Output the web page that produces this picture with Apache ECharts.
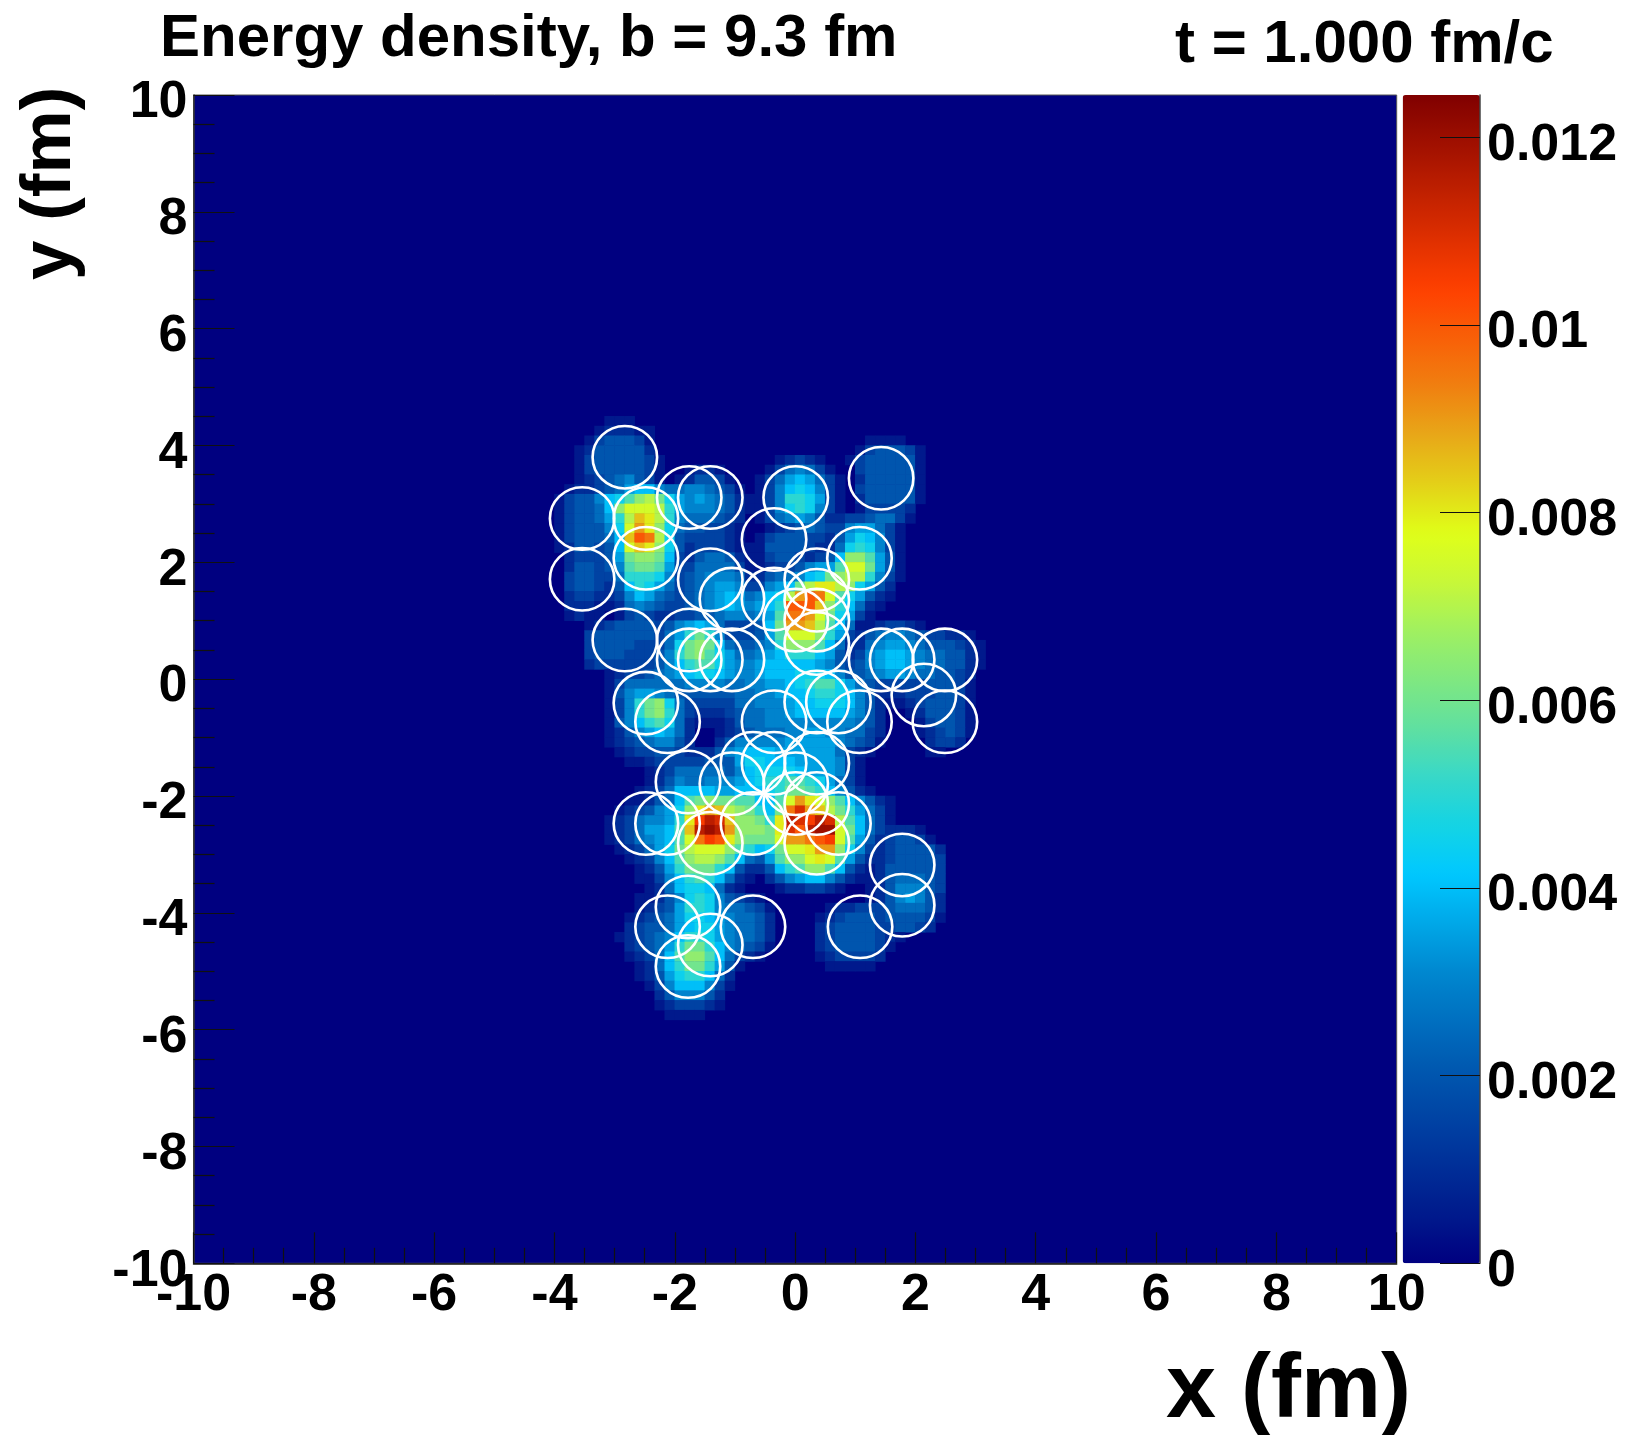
<!DOCTYPE html>
<html>
<head>
<meta charset="utf-8">
<style>html,body{margin:0;padding:0;background:#fff}#c{width:1627px;height:1435px}</style>
<script src="https://cdn.jsdelivr.net/npm/echarts@6/dist/echarts.min.js"></script>
</head>
<body>
<div id="c"></div>
<script>
// Energy density, in steps of 0.0005 (one base-25 digit per cell).
// Rows run from y = 4.5 fm downwards, columns from x = -4 fm rightwards, 1/6 fm per cell.
const densityStep = 0.0005;
const firstCol = 36;   // cell index of x = -4 on the 120-bin axis
const firstRow = 86;   // cell index of the row just below y = 4.5
const energyRows = [
"0000011100|0000000000|0000000000|0000000000|00000",
"0000122211|0000000000|0000000000|0000000000|00000",
"0001344431|0000000000|0000000000|0111100000|00000",
"0012444442|0000000000|0000000000|1344431000|00000",
"0013444443|1000000000|0012321001|3444441000|00000",
"0013444443|1001221000|0135653100|3444441000|00000",
"0012345643|1012443100|1357875310|2444441000|00000",
"0122345788|6556654310|1368986310|3444441000|00000",
"1344689bde|c976765421|136aa97310|2444441000|00000",
"134458dfff|ea76665421|1369a96310|1333320000|00000",
"134457aehg|ea65554320|1356764223|3455310000|00000",
"1344469fig|d954433210|0123454336|7753100000|00000",
"1344458hkj|e943333210|1344433247|9863100000|00000",
"1244348fhg|d942333211|1444432259|a963100000|00000",
"0233347cdd|c832455421|134432348d|db74100000|00000",
"0244346bcc|b733555531|12334677bf|fc74100000|00000",
"0344335aaa|9634566652|2455689cde|ea63100000|00000",
"03443248a9|7534567763|3678cegged|9742000000|00000",
"0233223687|5434567875|689eikjfb9|7421000000|00000",
"0222112565|4334567876|78akkkhda8|5210000000|00000",
"0121101343|2233445665|67bjjifc97|3100000000|00000",
"0001234444|3467875333|48ciiheb85|1123321000|00000",
"0003444444|357aca6333|47bfffda73|2456654332|21000",
"0003444433|359cdc8544|56adddb852|2567765444|32100",
"0003444333|46acdb9755|678aaa8742|3678876554|42100",
"0002333333|468abb9766|7888887643|4678876554|42100",
"0000012334|5678998766|7888999864|4567765544|32000",
"0000013555|5556666556|67789abb97|5433333444|31000",
"0000014677|6544444455|667889aa98|6422233344|31000",
"00000136ac|d953333355|6667889998|6421123444|31000",
"00000136ac|da53222345|5667888887|6420012444|31000",
"000001468a|b952111245|5666666666|5420001344|31000",
"0000012467|8752001234|5556677665|5320001234|31000",
"0000012345|6642002466|6667777765|4310000233|20000",
"0000001233|4432224678|8877777753|2100000110|00000",
"0000000112|3333344479|9888777763|1000000000|00000",
"0000000001|2355555468|9999877763|1000000000|00000",
"0000000001|2465566678|9aabba9753|1000000000|00000",
"0000000012|3588887788|89accba864|2100000000|00000",
"0000000112|458bcdccbb|88bfigfdb8|6421000000|00000",
"0000001234|679dgihedc|a8cjmiheca|7531000000|00000",
"0000012356|67aglnmhdd|cagnmlnmeb|8531000000|00000",
"0000012357|78bhnonidd|dcgmknoofc|8532221000|00000",
"0000012356|78bfjlkgdc|ccfiijklfb|7423443100|00000",
"0000001235|79cefffdba|89cffgiid9|6323444420|00000",
"0000000123|68bdeedb85|47bddfgfb7|4223444430|00000",
"0000000012|47accca842|248abddb84|2124444430|00000",
"0000000011|368aba8521|0246788642|1124555430|00000",
"0000000001|2589985210|0012233210|0124666430|00000",
"0000000011|2469a96432|1000000000|0124676420|00000",
"0000000012|347aa96554|3100000122|3334555420|00000",
"0000000123|4579987655|4200001234|4434444310|00000",
"0000000234|4578997655|4200002344|4433443200|00000",
"0000001234|568aa97655|4200002344|4432100000|00000",
"0000000234|57acca8654|3100002344|4431000000|00000",
"0000000123|58bddb8532|1000001233|3320000000|00000",
"0000000012|58acca7410|0000000111|1100000000|00000",
"0000000012|479aa85200|0000000000|0000000000|00000",
"0000000001|3688863100|0000000000|0000000000|00000",
"0000000000|2466642000|0000000000|0000000000|00000",
"0000000000|1233321000|0000000000|0000000000|00000",
"0000000000|0111100000|0000000000|0000000000|00000"
];

// Participant nucleon positions (fm)
const nucleonX = [-2.83,-3.54,-2.48,-2.48,-3.54,-1.76,-1.41,0.01,1.43,-0.35,1.07,-1.41,-1.05,-0.35,0.36,0.36,0.01,0.36,0.36,-2.83,-1.76,-1.76,-1.41,-1.05,1.43,1.78,2.49,2.14,2.49,-2.48,-2.12,-0.35,0.36,0.72,1.07,-1.78,-1.05,-0.70,-0.35,0.36,0.01,0.01,0.36,-2.48,-2.12,-1.41,-0.70,0.36,0.72,1.78,1.78,1.08,-1.78,-2.12,-1.41,-0.70,-1.78];
const nucleonY = [3.80,2.75,2.75,2.07,1.71,3.11,3.11,3.11,3.44,2.39,2.07,1.70,1.37,1.37,1.70,1.35,1.01,1.01,0.61,0.67,0.67,0.33,0.33,0.33,0.33,0.33,0.33,-0.27,-0.73,-0.41,-0.73,-0.73,-0.39,-0.39,-0.73,-1.76,-1.79,-1.44,-1.44,-1.44,-1.79,-2.13,-2.13,-2.47,-2.47,-2.81,-2.47,-2.81,-2.47,-3.18,-3.87,-4.24,-3.90,-4.24,-4.55,-4.24,-4.92];

const palette = ['#000080','#001a8c','#002f98','#0044a4','#0058b0','#0070c0','#0088d0','#00a8e8','#00c8ff','#14d4e4','#38d8c8','#60e0a0','#80e880','#a0f060','#c8f838','#e0ff18','#e4d018','#e8a818','#f08010','#f86008','#ff4000','#e03000','#c02000','#a01000','#800000'];
const colorMax = 0.01245;
const binLabels = Array.from({length:120},(_,i)=>String(i));

const heatData = [];
energyRows.forEach((row,r)=>{
  row.replace(/\|/g,'').split('').forEach((ch,c)=>{
    const n = parseInt(ch,25);
    if(n>0) heatData.push([firstCol+c, firstRow-r, n*densityStep]);
  });
});
const circleData = nucleonX.map((x,i)=>[x,nucleonY[i]]);

const FONT = '"Liberation Sans", Arial, sans-serif';
const labelStyle = {fontFamily:FONT,fontWeight:'bold',fontSize:52,color:'#000'};
const chart = echarts.init(document.getElementById('c'),null,{renderer:'canvas'});
chart.setOption({
  animation:false,
  backgroundColor:'#fff',
  title:[
    {text:'Energy density, b = 9.3 fm',left:160,top:9,padding:0,textStyle:{fontFamily:FONT,fontWeight:'bold',fontSize:60,color:'#000'}},
    {text:'t = 1.000 fm/c',left:1175,top:15,padding:0,textStyle:{fontFamily:FONT,fontWeight:'bold',fontSize:60,color:'#000'}}
  ],
  grid:[
    {left:193.5,top:95,width:1203.2,height:1168.3,show:true,backgroundColor:'#000080',borderColor:'#555',borderWidth:1},
    {left:1402.7,top:95,width:77.3,height:1168.3,show:false}
  ],
  xAxis:[
    {type:'category',gridIndex:0,data:binLabels,show:false},
    {type:'value',gridIndex:0,min:-10,max:10,interval:2,position:'bottom',z:10,
      axisLine:{show:true,onZero:false,lineStyle:{color:'#111',width:1.5}},
      axisTick:{show:true,inside:true,length:31,lineStyle:{color:'#111',width:1.2}},
      minorTick:{show:true,splitNumber:4,length:15.5,lineStyle:{color:'#111',width:1.2}},
      splitLine:{show:false},
      axisLabel:Object.assign({margin:6,hideOverlap:false,showMinLabel:true,showMaxLabel:true},labelStyle)},
    {type:'value',gridIndex:1,min:0,max:1,show:false}
  ],
  yAxis:[
    {type:'category',gridIndex:0,data:binLabels,show:false},
    {type:'value',gridIndex:0,min:-10,max:10,interval:2,position:'left',z:10,
      axisLine:{show:true,onZero:false,lineStyle:{color:'#333',width:1.5}},
      axisTick:{show:true,inside:true,length:41,lineStyle:{color:'#111',width:1.2}},
      minorTick:{show:true,splitNumber:4,length:21,lineStyle:{color:'#111',width:1.2}},
      splitLine:{show:false},
      axisLabel:Object.assign({margin:6,verticalAlign:'top',lineHeight:16,hideOverlap:false,showMinLabel:true,showMaxLabel:true},labelStyle)},
    {type:'value',gridIndex:1,min:0,max:colorMax,interval:0.002,position:'right',z:10,
      axisLine:{show:true,onZero:false,lineStyle:{color:'#444',width:1.5}},
      axisTick:{show:true,inside:true,length:40,lineStyle:{color:'#111',width:1.2}},
      minorTick:{show:false},
      splitLine:{show:false},
      axisLabel:Object.assign({margin:7,verticalAlign:'top',lineHeight:16,showMaxLabel:false,showMinLabel:true,hideOverlap:false},labelStyle)}
  ],
  visualMap:[{
    type:'continuous',min:0,max:colorMax,dimension:2,seriesIndex:0,
    left:1402.7,top:95,itemWidth:77.3,itemHeight:1168.3,padding:0,
    text:null,showLabel:false,calculable:false,hoverLink:false,
    inRange:{color:palette},
    textStyle:{color:'rgba(0,0,0,0)',fontSize:1}
  }],
  series:[
    {name:'Energy density',type:'heatmap',xAxisIndex:0,yAxisIndex:0,data:heatData,silent:true,progressive:0,emphasis:{disabled:true}},
    {name:'Nucleons',type:'scatter',xAxisIndex:1,yAxisIndex:1,data:circleData,silent:true,
      symbol:'circle',symbolSize:[64.5,62.5],
      itemStyle:{color:'rgba(0,0,0,0)',borderColor:'#fff',borderWidth:2.6,opacity:1}}
  ],
  graphic:[
    {type:'text',left:1166,top:1347,silent:true,style:{text:'x (fm)',fontFamily:FONT,fontWeight:'bold',fontSize:90,fill:'#000'}},
    {type:'text',x:86,y:280,rotation:Math.PI/2,silent:true,style:{text:'y (fm)',fontFamily:FONT,fontWeight:'bold',fontSize:71,fill:'#000',textAlign:'left',textVerticalAlign:'bottom'}}
  ]
});
</script>
</body>
</html>
